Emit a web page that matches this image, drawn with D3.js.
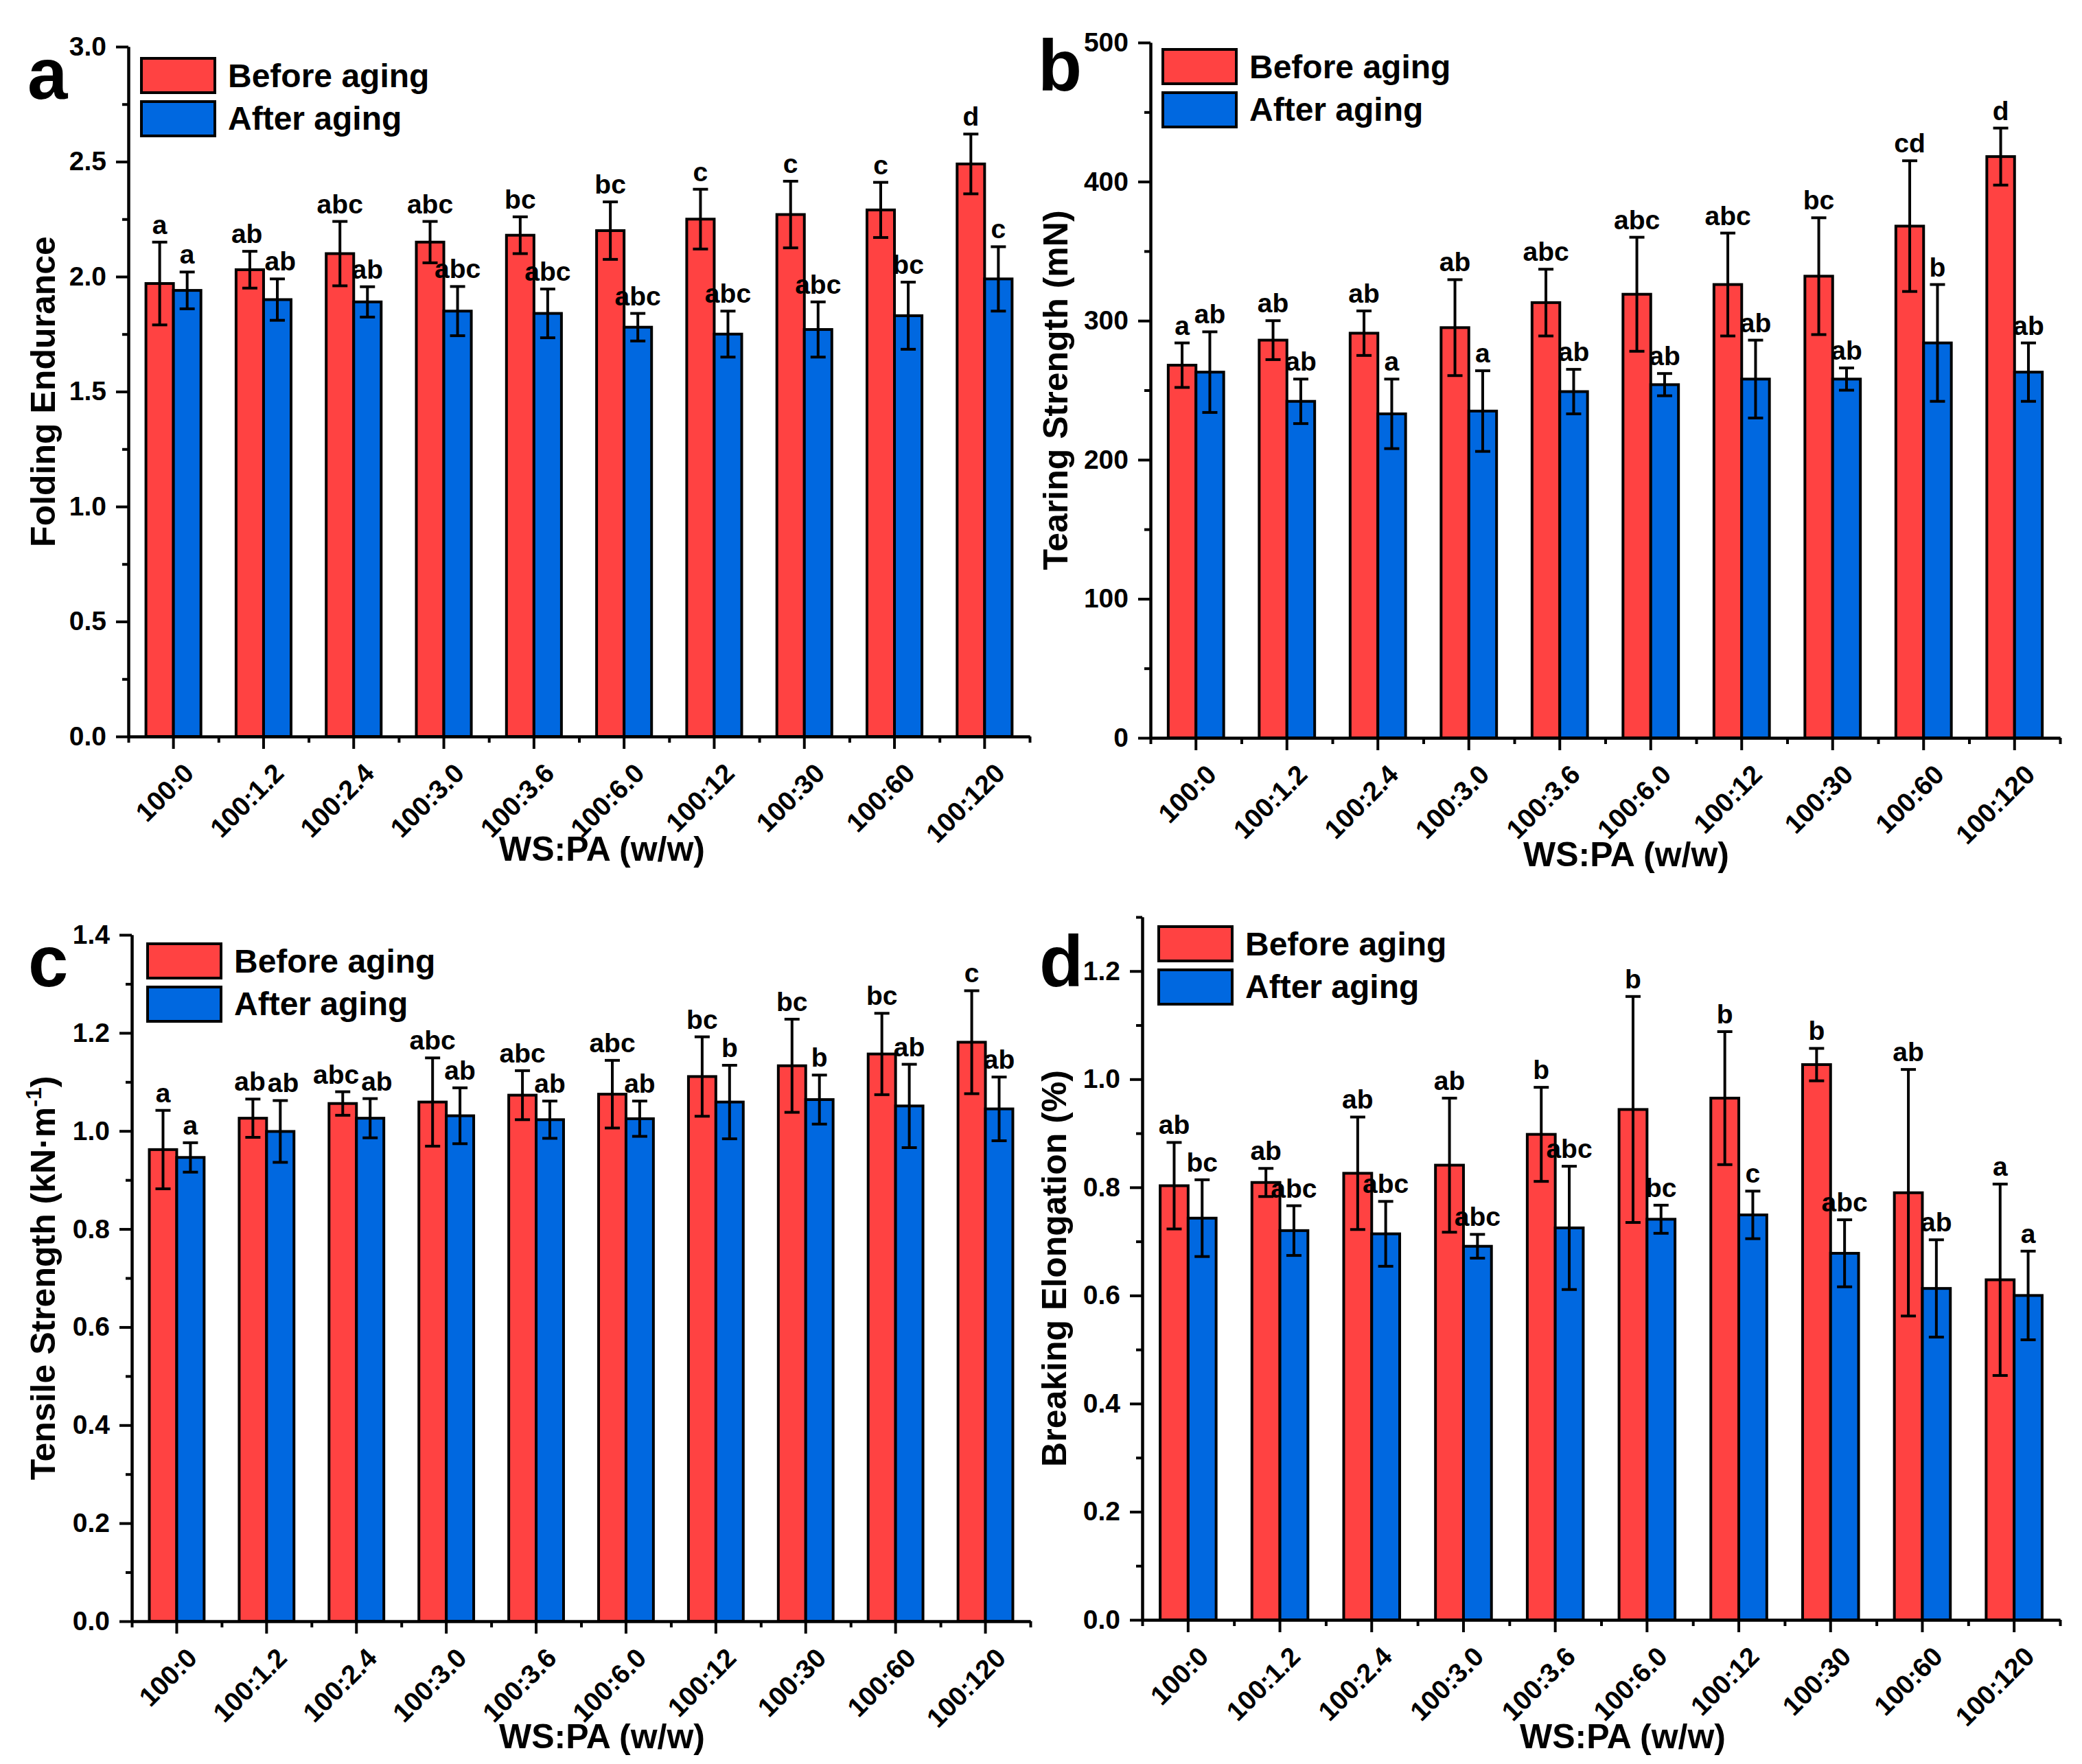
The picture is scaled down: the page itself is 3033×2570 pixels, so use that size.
<!DOCTYPE html>
<html>
<head>
<meta charset="utf-8">
<script src="https://cdn.jsdelivr.net/npm/d3@7"></script>
<style>
body { margin: 0; background: #fff; }
text { font-family: "Liberation Sans", Arial, sans-serif; font-weight: bold; fill: #000; }
</style>
</head>
<body>
<svg id="fig" width="3033" height="2570" viewBox="0 0 3033 2570"></svg>
<script>
// ---- data ----
const categories = ["100:0", "100:1.2", "100:2.4", "100:3.0", "100:3.6", "100:6.0", "100:12", "100:30", "100:60", "100:120"];
const seriesNames = ["Before aging", "After aging"];

// (a) folding endurance
const foldBefore = [1.97, 2.03, 2.10, 2.15, 2.18, 2.20, 2.25, 2.27, 2.29, 2.49];
const foldBeforeErr = [0.18, 0.08, 0.14, 0.09, 0.08, 0.125, 0.13, 0.145, 0.12, 0.13];
const foldAfter = [1.94, 1.90, 1.89, 1.85, 1.84, 1.78, 1.75, 1.77, 1.83, 1.99];
const foldAfterErr = [0.08, 0.09, 0.066, 0.107, 0.106, 0.06, 0.10, 0.12, 0.146, 0.14];
const foldBeforeSig = ["a", "ab", "abc", "abc", "bc", "bc", "c", "c", "c", "d"];
const foldAfterSig = ["a", "ab", "ab", "abc", "abc", "abc", "abc", "abc", "bc", "c"];
const foldTicks = [0, 0.5, 1.0, 1.5, 2.0, 2.5, 3.0];

// (b) tearing strength, mN
const tearBefore = [268, 286, 291, 295, 313, 319, 326, 332, 368, 418];
const tearBeforeErr = [16, 14, 16, 34.5, 24, 41, 37, 42, 47, 20.5];
const tearAfter = [263, 242, 233, 235, 249, 254, 258, 258, 284, 263];
const tearAfterErr = [29, 16, 25, 29, 16, 8, 28, 8, 42, 21];
const tearBeforeSig = ["a", "ab", "ab", "ab", "abc", "abc", "abc", "bc", "cd", "d"];
const tearAfterSig = ["ab", "ab", "a", "a", "ab", "ab", "ab", "ab", "b", "ab"];
const tearTicks = [0, 100, 200, 300, 400, 500];

// (c) tensile strength, kN/m
const tensileBefore = [0.962, 1.026, 1.056, 1.059, 1.073, 1.075, 1.111, 1.133, 1.157, 1.181];
const tensileBeforeErr = [0.08, 0.039, 0.024, 0.09, 0.05, 0.069, 0.081, 0.095, 0.083, 0.105];
const tensileAfter = [0.946, 0.999, 1.026, 1.031, 1.023, 1.025, 1.059, 1.064, 1.051, 1.045];
const tensileAfterErr = [0.03, 0.063, 0.04, 0.057, 0.038, 0.036, 0.075, 0.05, 0.085, 0.065];
const tensileBeforeSig = ["a", "ab", "abc", "abc", "abc", "abc", "bc", "bc", "bc", "c"];
const tensileAfterSig = ["a", "ab", "ab", "ab", "ab", "ab", "b", "b", "ab", "ab"];
const tensileTicks = [0, 0.2, 0.4, 0.6, 0.8, 1.0, 1.2, 1.4];

// (d) breaking elongation, %
const elongBefore = [0.803, 0.809, 0.826, 0.841, 0.898, 0.944, 0.965, 1.027, 0.790, 0.629];
const elongBeforeErr = [0.08, 0.026, 0.104, 0.124, 0.087, 0.209, 0.123, 0.03, 0.228, 0.177];
const elongAfter = [0.743, 0.720, 0.714, 0.691, 0.725, 0.741, 0.749, 0.678, 0.613, 0.600];
const elongAfterErr = [0.071, 0.046, 0.06, 0.022, 0.114, 0.026, 0.044, 0.062, 0.09, 0.082];
const elongBeforeSig = ["ab", "ab", "ab", "ab", "b", "b", "b", "b", "ab", "a"];
const elongAfterSig = ["bc", "abc", "abc", "abc", "abc", "bc", "c", "abc", "ab", "a"];
const elongTicks = [0, 0.2, 0.4, 0.6, 0.8, 1.0, 1.2];

const colors = {"Before aging": "#ff4242", "After aging": "#0068e0"};

// panel layout (pixel positions of each Origin layer)
const panels = [
    {letter: "a", before: foldBefore, beforeErr: foldBeforeErr, after: foldAfter, afterErr: foldAfterErr,
     beforeSig: foldBeforeSig, afterSig: foldAfterSig, ticks: foldTicks, yMax: 3.0, minorStep: 0.25, fmt: ".1f",
     yTitle: [{t: "Folding Endurance"}],
     x0: 187, x1: 1500, yTop: 68, yBot: 1073, letterX: 40, letterY: 144,
     legX: 204, legY: 83, xTitleX: 877, xTitleY: 1254, yTitleX: 80},
    {letter: "b", before: tearBefore, beforeErr: tearBeforeErr, after: tearAfter, afterErr: tearAfterErr,
     beforeSig: tearBeforeSig, afterSig: tearAfterSig, ticks: tearTicks, yMax: 500, minorStep: 50, fmt: "d",
     yTitle: [{t: "Tearing Strength (mN)"}],
     x0: 1676, x1: 3001, yTop: 62, yBot: 1075, letterX: 1512, letterY: 132,
     legX: 1692, legY: 70, xTitleX: 2369, xTitleY: 1262, yTitleX: 1555},
    {letter: "c", before: tensileBefore, beforeErr: tensileBeforeErr, after: tensileAfter, afterErr: tensileAfterErr,
     beforeSig: tensileBeforeSig, afterSig: tensileAfterSig, ticks: tensileTicks, yMax: 1.4, minorStep: 0.1, fmt: ".1f",
     yTitle: [{t: "Tensile Strength (kN\u00b7m"}, {t: "-1", sup: true}, {t: ")"}],
     x0: 192, x1: 1501, yTop: 1362, yBot: 2362, letterX: 41, letterY: 1437,
     legX: 213, legY: 1373, xTitleX: 877, xTitleY: 2547, yTitleX: 80},
    {letter: "d", before: elongBefore, beforeErr: elongBeforeErr, after: elongAfter, afterErr: elongAfterErr,
     beforeSig: elongBeforeSig, afterSig: elongAfterSig, ticks: elongTicks, yMax: 1.3, minorStep: 0.1, fmt: ".1f",
     yTitle: [{t: "Breaking Elongation (%)"}],
     x0: 1664, x1: 3001, yTop: 1336, yBot: 2360, letterX: 1514, letterY: 1437,
     legX: 1686, legY: 1348, xTitleX: 2364, xTitleY: 2547, yTitleX: 1553}
];

const svg = d3.select('#fig');

function styleAxis(sel, fontSize) {
    sel.attr('font-size', fontSize).attr('font-family', '"Liberation Sans", Arial, sans-serif').attr('font-weight', 'bold');
    sel.selectAll('path, line').attr('stroke', '#000').attr('stroke-width', 4);
    sel.selectAll('text').attr('fill', '#000');
}

function drawPanel(p) {
    const g = svg.append('g');
    const x = d3.scaleBand().domain(categories).range([p.x0, p.x1]);
    const bw = x.bandwidth();
    const xs = d3.scaleBand().domain(seriesNames).range([bw * 0.195, bw * 0.805]);
    const y = d3.scaleLinear().domain([0, p.yMax]).range([p.yBot, p.yTop]);

    const rows = categories.map((c, i) => ({
        cat: c,
        vals: [
            {s: seriesNames[0], v: p.before[i], e: p.beforeErr[i], sig: p.beforeSig[i]},
            {s: seriesNames[1], v: p.after[i], e: p.afterErr[i], sig: p.afterSig[i]}
        ]
    }));
    const cx = d => xs(d.s) + xs.bandwidth() / 2;

    const grp = g.selectAll('g.cat').data(rows).join('g')
        .attr('class', 'cat')
        .attr('transform', d => 'translate(' + x(d.cat) + ',0)');

    grp.selectAll('rect').data(d => d.vals).join('rect')
        .attr('x', d => xs(d.s))
        .attr('width', xs.bandwidth())
        .attr('y', d => y(d.v))
        .attr('height', d => y(0) - y(d.v))
        .attr('fill', d => colors[d.s])
        .attr('stroke', '#000')
        .attr('stroke-width', 4);

    // error bars
    grp.selectAll('line.err').data(d => d.vals).join('line')
        .attr('class', 'err')
        .attr('x1', cx).attr('x2', cx)
        .attr('y1', d => y(d.v + d.e)).attr('y2', d => y(d.v - d.e));
    grp.selectAll('line.capTop').data(d => d.vals).join('line')
        .attr('class', 'capTop')
        .attr('x1', d => cx(d) - 11).attr('x2', d => cx(d) + 11)
        .attr('y1', d => y(d.v + d.e)).attr('y2', d => y(d.v + d.e));
    grp.selectAll('line.capBot').data(d => d.vals).join('line')
        .attr('class', 'capBot')
        .attr('x1', d => cx(d) - 11).attr('x2', d => cx(d) + 11)
        .attr('y1', d => y(d.v - d.e)).attr('y2', d => y(d.v - d.e));
    grp.selectAll('line').attr('stroke', '#000').attr('stroke-width', 4);

    // significance letters
    grp.selectAll('text.sig').data(d => d.vals).join('text')
        .attr('class', 'sig')
        .attr('x', cx)
        .attr('y', d => y(d.v + d.e) - 12)
        .attr('text-anchor', 'middle')
        .attr('font-size', 39)
        .text(d => d.sig);

    // push apart letters of one group if they collide
    grp.each(function() {
        const t = d3.select(this).selectAll('text.sig').nodes();
        const b0 = t[0].getBBox(), b1 = t[1].getBBox();
        const over = b0.x + b0.width + 3 - b1.x;
        const vert = b0.y < b1.y + b1.height && b1.y < b0.y + b0.height;
        if (over > 0 && vert) {
            d3.select(t[0]).attr('x', +t[0].getAttribute('x') - over / 2);
            d3.select(t[1]).attr('x', +t[1].getAttribute('x') + over / 2);
        }
    });

    // y axis
    const minors = d3.range(0, p.yMax + 1e-9, p.minorStep)
        .filter(v => !p.ticks.some(t => Math.abs(t - v) < 1e-9));
    g.append('g')
        .attr('transform', 'translate(' + p.x0 + ',0)')
        .call(d3.axisLeft(y).tickValues(minors).tickSize(9).tickSizeOuter(0).tickFormat(''))
        .call(s => styleAxis(s, 39));
    g.append('g')
        .attr('transform', 'translate(' + p.x0 + ',0)')
        .call(d3.axisLeft(y).tickValues(p.ticks).tickSize(18).tickSizeOuter(0).tickPadding(14).tickFormat(d3.format(p.fmt)))
        .call(s => styleAxis(s, 39));

    // x axis
    const xi = d3.scaleLinear().domain([0, categories.length]).range([p.x0, p.x1]);
    g.append('g')
        .attr('transform', 'translate(0,' + p.yBot + ')')
        .call(d3.axisBottom(xi).tickValues(d3.range(categories.length + 1)).tickSize(9).tickSizeOuter(0).tickFormat(''))
        .call(s => styleAxis(s, 39));
    g.append('g')
        .attr('transform', 'translate(0,' + p.yBot + ')')
        .call(d3.axisBottom(x).tickSize(18).tickSizeOuter(0))
        .call(s => styleAxis(s, 39))
        .selectAll('text')
        .attr('x', 0).attr('y', 0).attr('dy', 0)
        .attr('text-anchor', 'end')
        .attr('transform', 'translate(32,56) rotate(-45)');

    // legend
    const leg = g.append('g');
    seriesNames.forEach((s, i) => {
        leg.append('rect')
            .attr('x', p.legX + 2).attr('y', p.legY + 2 + i * 63)
            .attr('width', 107).attr('height', 50)
            .attr('fill', colors[s]).attr('stroke', '#000').attr('stroke-width', 4);
        leg.append('text')
            .attr('x', p.legX + 128).attr('y', p.legY + 44 + i * 62)
            .attr('font-size', 48)
            .text(s);
    });

    // titles
    g.append('text')
        .attr('x', p.xTitleX).attr('y', p.xTitleY)
        .attr('text-anchor', 'middle').attr('font-size', 50)
        .text('WS:PA (w/w)');
    const yt = g.append('text')
        .attr('transform', 'translate(' + p.yTitleX + ',' + (p.yTop + p.yBot) / 2 + ') rotate(-90)')
        .attr('text-anchor', 'middle').attr('font-size', 50);
    let shifted = false;
    p.yTitle.forEach(part => {
        const ts = yt.append('tspan').text(part.t);
        if (part.sup) { ts.attr('font-size', 32).attr('dy', -20); shifted = true; }
        else if (shifted) { ts.attr('dy', 20); shifted = false; }
    });

    g.append('text')
        .attr('x', p.letterX).attr('y', p.letterY)
        .attr('font-size', 105)
        .text(p.letter);
}

panels.forEach(drawPanel);
</script>
</body>
</html>
